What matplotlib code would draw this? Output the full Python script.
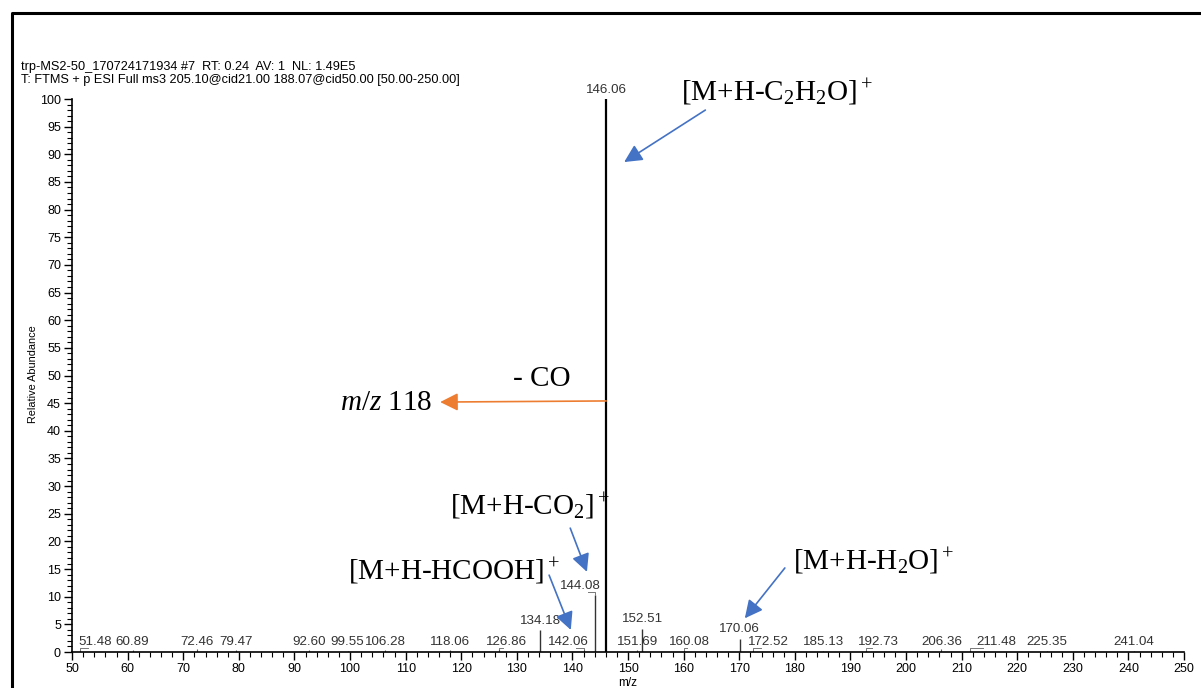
import matplotlib
matplotlib.use("Agg")
import matplotlib.pyplot as plt
from matplotlib.lines import Line2D
from matplotlib.ticker import MultipleLocator

plt.rcParams['font.family'] = ['Liberation Sans', 'DejaVu Sans']
plt.rcParams['mathtext.fontset'] = 'custom'
plt.rcParams['mathtext.rm'] = 'Liberation Serif'
plt.rcParams['mathtext.it'] = 'Liberation Serif:italic'

# main peaks (m/z, relative abundance)
major_mz = [146.06, 144.08, 134.18, 152.51, 170.06]
major_int = [100.0, 10.3, 4.0, 4.2, 2.4]

# small labelled peaks near the baseline
minor_mz = [51.48, 60.89, 72.46, 79.47, 92.60, 99.55, 106.28, 118.06, 126.86,
            142.06, 151.69, 160.08, 172.52, 185.13, 192.73, 206.36, 211.48,
            225.35, 241.04]
minor_int = [0.3, 0.3, 0.5, 0.3, 0.3, 0.2, 0.3, 0.4, 0.5,
             0.6, 0.4, 0.3, 0.4, 0.2, 0.3, 0.5, 0.4, 0.2, 0.2]

header = ["trp-MS2-50_170724171934 #7  RT: 0.24  AV: 1  NL: 1.49E5",
          "T: FTMS + p ESI Full ms3 205.10@cid21.00 188.07@cid50.00 [50.00-250.00]"]

fig = plt.figure(figsize=(12.01, 6.88), dpi=100)
ax = fig.add_axes([0.0600, 0.0523, 0.9259, 0.8038])

# sticks
ax.vlines(minor_mz, 0, minor_int, color='#555555', lw=0.8)
ax.vlines(major_mz[1:], 0, major_int[1:], color='#333333', lw=1.0)
ax.vlines(major_mz[0], 0, major_int[0], color='black', lw=1.6)

# peak labels; some are nudged sideways like in the instrument software
nudge = {51.48: 2.6, 142.06: -2.8, 144.08: -2.6, 172.52: 2.7,
         192.73: 2.3, 211.48: 4.8, 160.08: 0.9, 126.86: 1.2}
lbl_kw = dict(fontsize=9.6, color='#333333', ha='center', va='bottom')
for mz, h in zip(minor_mz, minor_int):
    dx = nudge.get(mz, 0)
    ax.text(mz + dx, 0.8, f"{mz:.2f}", **lbl_kw)
    if dx:
        ax.plot([mz, mz, mz + dx * 0.5], [h, 0.8, 0.8], color='#777777', lw=0.7)
for mz, h in zip(major_mz, major_int):
    dx = nudge.get(mz, 0)
    ax.text(mz + dx, h + 0.6, f"{mz:.2f}", **lbl_kw)
    if dx:
        ax.plot([mz, mz, mz + dx * 0.5], [h, h + 0.6, h + 0.6], color='#777777', lw=0.7)

ax.set_xlim(50, 250)
ax.set_ylim(0, 100)
ax.xaxis.set_major_locator(MultipleLocator(10))
ax.xaxis.set_minor_locator(MultipleLocator(2))
ax.yaxis.set_major_locator(MultipleLocator(5))
ax.yaxis.set_minor_locator(MultipleLocator(1))
ax.tick_params(which='major', length=6, width=1, labelsize=9, pad=2)
ax.tick_params(which='minor', length=3.5, width=0.8)
for s in ['top', 'right']:
    ax.spines[s].set_visible(False)
ax.spines['left'].set_linewidth(1.2)
ax.spines['bottom'].set_linewidth(1.2)
ax.set_xlabel('m/z', fontsize=8.5, labelpad=1)
fig.text(33 / 1201, 1 - 374 / 688, 'Relative Abundance', rotation=90,
         fontsize=7.8, ha='center', va='center')

fig.text(21 / 1201, 1 - 70 / 688, header[0], fontsize=9.2)
fig.text(21 / 1201, 1 - 83 / 688, header[1], fontsize=9.2)

# annotations
serif = 'Liberation Serif'
blue = '#4472C4'
orange = '#ED7D31'
ap = dict(arrowstyle='-|>,head_length=0.6,head_width=0.3', mutation_scale=18,
          lw=1.2, shrinkA=0, shrinkB=0)

ax.text(159.5, 99.6, r'[M+H-C$_2$H$_2$O]$^+$', family=serif, fontsize=21, va='baseline')
ax.annotate('', xy=(149.3, 88.6), xytext=(163.9, 98.0), arrowprops=dict(ap, color=blue))

ax.text(118.0, 24.8, r'[M+H-CO$_2$]$^+$', family=serif, fontsize=21, va='baseline')
ax.annotate('', xy=(142.6, 14.5), xytext=(139.6, 22.4), arrowprops=dict(ap, color=blue))

ax.text(99.6, 13.0, r'[M+H-HCOOH]$^+$', family=serif, fontsize=21, va='baseline')
ax.annotate('', xy=(139.7, 4.0), xytext=(135.8, 13.9), arrowprops=dict(ap, color=blue))

ax.text(179.7, 14.8, r'[M+H-H$_2$O]$^+$', family=serif, fontsize=21, va='baseline')
ax.annotate('', xy=(171.0, 6.1), xytext=(178.2, 15.2), arrowprops=dict(ap, color=blue))

ax.annotate('', xy=(116.2, 45.2), xytext=(146.06, 45.4), arrowprops=dict(ap, color=orange))
ax.text(134.4, 48.1, '- CO', family=serif, fontsize=21, ha='center', va='baseline')
ax.text(98.2, 43.8, r'$m/z$ 118', family=serif, fontsize=21, va='baseline')

# outer frame (top and left edges are visible)
fig.add_artist(Line2D([0.010, 0.010, 1.0], [0.0, 0.981, 0.981], color='black',
                      lw=2.2, transform=fig.transFigure))

fig.savefig('out.png', dpi=100)
